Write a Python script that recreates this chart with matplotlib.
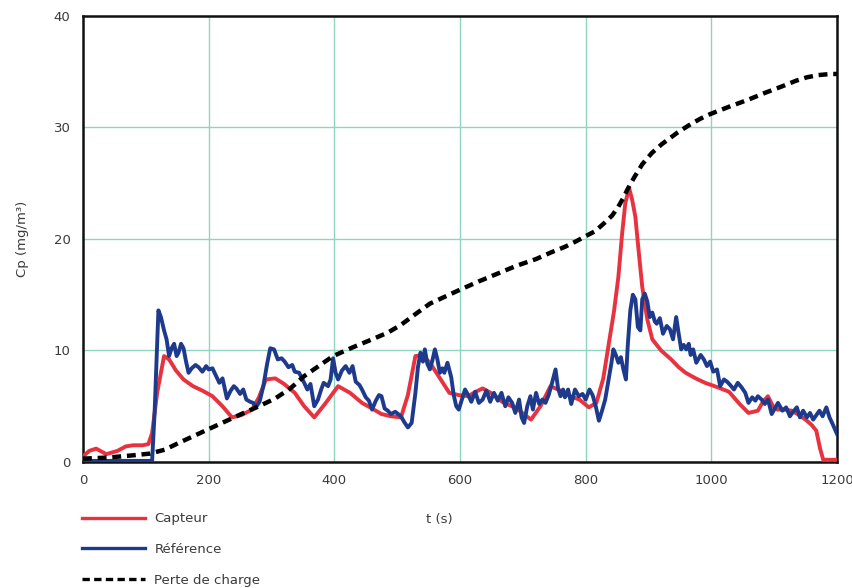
import numpy as np
import matplotlib.pyplot as plt
from matplotlib.lines import Line2D

# (t [s], Cp [mg/m3]) pairs for each trace
capteur = [
    (0, 0.5), (10, 1.0), (21, 1.2), (37, 0.7), (55, 1.0), (68, 1.4), (80, 1.5),
    (95, 1.5), (104, 1.6), (110, 2.6), (118, 6.2), (124, 8.0), (129, 9.5),
    (137, 9.2), (148, 8.2), (160, 7.4), (175, 6.8), (190, 6.4), (206, 5.9),
    (222, 5.0), (237, 4.0), (252, 4.2), (269, 4.7), (280, 5.8), (291, 7.4),
    (306, 7.5), (320, 7.0), (337, 6.2), (352, 5.0), (368, 4.0), (385, 5.2),
    (406, 6.8), (425, 6.2), (444, 5.3), (460, 4.8), (475, 4.3), (490, 4.1),
    (506, 4.0), (517, 6.0), (529, 9.5), (540, 9.6), (552, 8.9), (567, 7.6),
    (583, 6.2), (598, 6.0), (613, 5.9), (625, 6.3), (636, 6.6), (652, 6.1),
    (667, 5.4), (690, 4.8), (713, 3.8), (728, 5.0), (744, 6.8), (760, 6.4),
    (775, 5.9), (790, 5.6), (805, 4.9), (817, 5.3), (828, 7.5), (837, 10.7),
    (845, 13.5), (852, 16.6), (858, 20.5), (863, 23.2), (869, 24.6), (874, 23.5),
    (879, 22.0), (885, 18.5), (890, 15.7), (898, 12.8), (906, 11.0), (920, 10.0),
    (936, 9.2), (948, 8.5), (959, 8.0), (975, 7.5), (990, 7.1), (1010, 6.7),
    (1028, 6.3), (1045, 5.2), (1059, 4.4), (1074, 4.6), (1082, 5.4), (1090, 5.9),
    (1098, 5.0), (1105, 4.7), (1117, 4.7), (1128, 4.6), (1140, 4.2), (1152, 3.7),
    (1160, 3.3), (1167, 2.8), (1173, 1.2), (1178, 0.2), (1188, 0.2), (1200, 0.2),
]

reference = [
    (0, 0.1), (40, 0.1), (80, 0.1), (110, 0.1), (114, 4.5), (120, 13.6), (124, 13.0),
    (129, 11.8), (133, 11.0), (137, 9.5), (141, 10.2), (145, 10.6), (149, 9.5),
    (152, 9.8), (156, 10.6), (160, 10.2), (164, 9.0), (168, 8.0), (173, 8.4),
    (179, 8.7), (184, 8.5), (190, 8.1), (196, 8.6), (200, 8.3), (206, 8.4),
    (211, 7.8), (217, 7.1), (222, 7.5), (229, 5.7), (235, 6.4), (240, 6.8),
    (244, 6.6), (250, 6.1), (255, 6.5), (260, 5.6), (266, 5.4), (271, 5.3),
    (275, 4.9), (281, 5.4), (287, 6.8), (293, 8.8), (298, 10.2), (304, 10.1),
    (310, 9.2), (316, 9.3), (321, 9.0), (327, 8.5), (333, 8.7), (337, 8.1),
    (344, 8.0), (352, 7.1), (357, 6.5), (362, 7.0), (368, 5.0), (374, 5.6),
    (379, 6.5), (383, 7.1), (390, 6.8), (394, 7.4), (398, 9.3), (402, 8.0),
    (406, 7.4), (412, 8.2), (418, 8.6), (424, 8.0), (429, 8.6), (434, 7.2),
    (440, 6.9), (444, 6.5), (450, 5.8), (455, 5.5), (460, 4.7), (466, 5.5),
    (471, 6.0), (475, 5.9), (480, 4.8), (485, 4.6), (490, 4.3), (497, 4.5),
    (506, 4.1), (511, 3.6), (517, 3.1), (523, 3.5), (529, 6.2), (533, 8.5),
    (537, 9.8), (541, 9.0), (544, 10.1), (548, 8.8), (552, 8.3), (556, 9.1),
    (560, 10.1), (564, 9.2), (568, 8.0), (572, 8.4), (575, 8.0), (580, 8.9),
    (586, 7.6), (590, 6.0), (594, 5.0), (598, 4.7), (603, 5.6), (608, 6.5),
    (613, 6.0), (618, 5.4), (624, 6.3), (630, 5.3), (636, 5.6), (642, 6.4),
    (648, 5.4), (654, 6.2), (660, 5.5), (666, 6.2), (672, 5.0), (677, 5.8),
    (683, 5.3), (688, 4.4), (694, 5.6), (698, 4.0), (702, 3.5), (707, 5.0),
    (712, 5.9), (716, 4.7), (721, 6.2), (726, 5.2), (731, 5.6), (736, 5.3),
    (741, 6.0), (746, 7.0), (752, 8.3), (756, 6.6), (760, 5.9), (764, 6.5),
    (767, 5.8), (772, 6.5), (777, 5.2), (783, 6.5), (789, 5.9), (795, 6.1),
    (800, 5.6), (806, 6.5), (811, 6.0), (816, 5.0), (821, 3.7), (826, 4.6),
    (831, 5.6), (837, 7.6), (841, 8.9), (844, 10.1), (848, 9.6), (852, 8.9),
    (856, 9.4), (860, 8.3), (864, 7.4), (867, 10.5), (871, 13.6), (875, 15.0),
    (879, 14.6), (883, 12.1), (887, 11.8), (890, 14.6), (894, 15.1), (898, 14.4),
    (902, 13.0), (906, 13.4), (910, 12.6), (913, 12.4), (918, 12.9), (923, 11.5),
    (929, 12.2), (934, 11.9), (939, 11.0), (944, 13.0), (948, 11.5), (952, 10.1),
    (956, 10.5), (960, 10.1), (964, 10.6), (967, 9.6), (971, 10.1), (976, 8.9),
    (983, 9.6), (988, 9.2), (993, 8.6), (998, 9.0), (1003, 8.1), (1009, 8.3),
    (1014, 6.8), (1020, 7.4), (1025, 7.2), (1030, 6.9), (1036, 6.5), (1042, 7.1),
    (1048, 6.7), (1054, 6.2), (1059, 5.3), (1065, 5.8), (1070, 5.5), (1074, 5.9),
    (1080, 5.6), (1085, 5.2), (1090, 5.6), (1096, 4.3), (1101, 4.8), (1106, 5.3),
    (1113, 4.6), (1119, 4.9), (1125, 4.1), (1130, 4.5), (1136, 4.9), (1141, 4.0),
    (1146, 4.6), (1152, 4.0), (1157, 4.4), (1162, 3.8), (1167, 4.2), (1172, 4.6),
    (1177, 4.1), (1183, 4.9), (1188, 4.0), (1193, 3.4), (1200, 2.5),
]

perte_de_charge = [
    (0, 0.3), (40, 0.4), (80, 0.6), (106, 0.75), (130, 1.1), (152, 1.7), (175, 2.3),
    (198, 2.9), (225, 3.6), (252, 4.3), (280, 5.0), (306, 5.7), (330, 6.6),
    (352, 7.7), (375, 8.6), (398, 9.5), (430, 10.3), (460, 11.0), (485, 11.6),
    (506, 12.3), (530, 13.3), (552, 14.2), (575, 14.8), (598, 15.4), (630, 16.2),
    (660, 16.9), (690, 17.6), (721, 18.2), (745, 18.8), (767, 19.3), (785, 19.8),
    (798, 20.2), (815, 20.7), (829, 21.4), (842, 22.1), (852, 22.9), (860, 23.7),
    (867, 24.5), (878, 25.6), (890, 26.7), (905, 27.7), (921, 28.5), (945, 29.5),
    (967, 30.3), (983, 30.8), (998, 31.2), (1030, 31.9), (1059, 32.5), (1085, 33.1),
    (1113, 33.7), (1135, 34.2), (1152, 34.5), (1170, 34.7), (1190, 34.8), (1200, 34.8),
]

red = '#e8323f'
blue = '#1e3a8c'
grid_col = '#8fd3c1'
text_col = '#3a3a3a'

plt.rcParams['font.family'] = 'DejaVu Sans'
fig = plt.figure(figsize=(8.53, 5.88), dpi=100)
ax = fig.add_axes([0.0973, 0.2143, 0.8840, 0.7585])

t, y = np.array(capteur).T
ax.plot(t, y, color=red, lw=2.8, solid_joinstyle='round', zorder=3)
t, y = np.array(reference).T
ax.plot(t, y, color=blue, lw=2.8, solid_joinstyle='round', zorder=4)
t, y = np.array(perte_de_charge).T
ax.plot(t, y, color='black', lw=3.2, dashes=(2.0, 1.3), zorder=5)

ax.set_xlim(0, 1200)
ax.set_ylim(0, 40)
ax.set_xticks([0, 200, 400, 600, 800, 1000, 1200])
ax.set_yticks([0, 10, 20, 30, 40])
ax.grid(True, color=grid_col, lw=1.0)
ax.set_axisbelow(True)
ax.tick_params(length=0, labelsize=9.5, labelcolor=text_col, pad=9)
for s in ax.spines.values():
    s.set_linewidth(1.8)
    s.set_color('#111111')

ax.set_ylabel('Cp (mg/m³)', fontsize=9.5, color=text_col, labelpad=18)
fig.text(0.5155, 0.117, 't (s)', fontsize=9.5, color=text_col, ha='center', va='center')

handles = [Line2D([], [], color=red, lw=2.4),
           Line2D([], [], color=blue, lw=2.4),
           Line2D([], [], color='black', lw=2.4, dashes=(2.2, 1.3))]
labels = ['Capteur', 'Référence', 'Perte de charge']
fig.legend(handles, labels, loc='upper left', bbox_to_anchor=(0.096, 0.129),
           frameon=False, fontsize=9.5, handlelength=4.8, handletextpad=0.7,
           labelspacing=1.35, borderaxespad=0, borderpad=0, labelcolor=text_col)

fig.savefig('out.png', dpi=100)
